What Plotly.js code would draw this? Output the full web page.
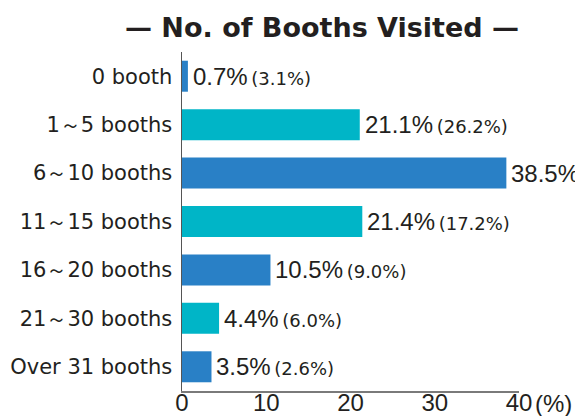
<!DOCTYPE html>
<html>
<head>
<meta charset="utf-8">
<script src="https://cdn.plot.ly/plotly-3.0.1.min.js"></script>
<style>html,body{margin:0;padding:0;background:#fff;}#chart{width:575px;height:416px;}</style>
</head>
<body>
<div id="chart"></div>
<script>
const categories = ["0 booth", "1～5 booths", "6～10 booths", "11～15 booths", "16～20 booths", "21～30 booths", "Over 31 booths"];
const values = [0.7, 21.1, 38.5, 21.4, 10.5, 4.4, 3.5];
const prevValues = ["3.1", "26.2", "", "17.2", "9.0", "6.0", "2.6"];
const tickVals = [0, 10, 20, 30, 40];
const tickText = ["0", "10", "20", "30", "40"];

const BLUE = "#2980c6", CYAN = "#00b5c7", TXT = "#231f20";
const colors = categories.map((c, i) => i % 2 === 0 ? BLUE : CYAN);

const trace = {
  type: "bar", orientation: "h",
  x: values, y: categories,
  marker: {color: colors, line: {width: 0}},
  hoverinfo: "none"
};

const annotations = categories.map((c, i) => ({
  x: values[i], y: c, xref: "x", yref: "y",
  xanchor: "left", yanchor: "middle", xshift: 3, yshift: 0,
  showarrow: false,
  text: values[i].toFixed(1) + "%" + (prevValues[i] ? '<span style="font-family:\'DejaVu Sans\';font-size:18px">\u2009(' + prevValues[i] + '%)</span>' : ""),
  font: {family: "Liberation Sans, Arial, sans-serif", size: 24, color: TXT}
}));
annotations.push({
  x: 40, y: 0, xref: "x", yref: "paper", xanchor: "left", yanchor: "top",
  xshift: 14, yshift: 3, showarrow: false, text: "(%)",
  font: {family: "Liberation Sans, Arial, sans-serif", size: 24, color: TXT}
});

const layout = {
  width: 575, height: 416,
  margin: {l: 182, r: 56, t: 52, b: 25, pad: 0},
  paper_bgcolor: "#fff", plot_bgcolor: "#fff",
  showlegend: false,
  bargap: 0.36,
  title: {
    text: "— No. of Booths Visited —",
    font: {family: "DejaVu Sans, sans-serif", size: 27, color: TXT, weight: "bold"},
    xref: "container", yref: "container", x: 322/575, xanchor: "center",
    y: 1 - 28/416, yanchor: "middle"
  },
  xaxis: {
    range: [0, 40], tickvals: tickVals, ticktext: tickText,
    showgrid: false, zeroline: false, showline: true, linecolor: "#7a7a7a", linewidth: 1.5,
    ticks: "", ticklen: 0, automargin: false, ticklabelstandoff: -10,
    tickfont: {family: "Liberation Sans, Arial, sans-serif", size: 24, color: TXT}
  },
  yaxis: {
    type: "category", autorange: "reversed", range: [6.5, -0.5],
    showgrid: false, zeroline: false, showline: true, linecolor: "#555", linewidth: 1.5,
    ticks: "", automargin: false, ticklabelstandoff: 4,
    tickfont: {family: "DejaVu Sans, sans-serif", size: 21, color: TXT}
  },
  annotations: annotations
};

Plotly.newPlot("chart", [trace], layout, {staticPlot: true, displayModeBar: false});
</script>
</body>
</html>
